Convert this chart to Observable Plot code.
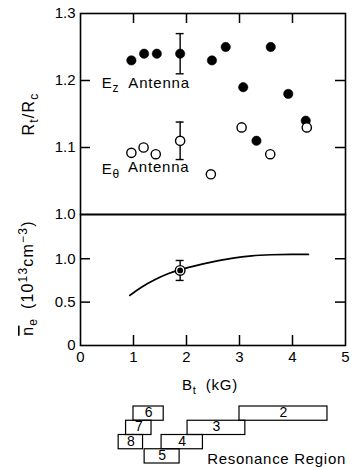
<!DOCTYPE html>
<html><head><meta charset="utf-8">
<script src="https://cdn.jsdelivr.net/npm/d3@7"></script>
<script src="https://cdn.jsdelivr.net/npm/@observablehq/plot@0.6"></script>
<style>
html,body{margin:0;padding:0;background:#fff;}
#chart{position:relative;width:360px;height:467px;overflow:hidden;font-family:"Liberation Sans",Arial,sans-serif;}
#chart svg{position:absolute;left:0;overflow:visible;background:transparent;}
</style></head><body><div id="chart"></div>
<script>
// ---- data ----
const ezB  = [0.96, 1.20, 1.44, 1.88, 2.48, 2.74, 3.07, 3.32, 3.59, 3.92, 4.25];
const ezR  = [1.23, 1.24, 1.24, 1.24, 1.23, 1.25, 1.19, 1.11, 1.25, 1.18, 1.14];
const ethB = [0.96, 1.19, 1.42, 1.88, 2.46, 3.04, 3.58, 4.27];
const ethR = [1.092, 1.10, 1.09, 1.11, 1.06, 1.13, 1.09, 1.13];
const errB  = [1.88, 1.88];
const errLo = [1.21, 1.082];
const errHi = [1.27, 1.138];
const densB = [0.93, 1.15, 1.40, 1.65, 1.87, 2.16, 2.47, 2.85, 3.23, 3.60, 3.98, 4.30];
const densN = [0.577, 0.672, 0.758, 0.827, 0.872, 0.918, 0.961, 1.005, 1.034, 1.046, 1.05, 1.05];
const measB = [1.88];
const measN = [0.865];
const measLo = [0.75];
const measHi = [0.98];
const resLabels = ["2", "3", "4", "5", "6", "7", "8"];
const resLo  = [3.00, 2.02, 1.53, 1.21, 1.00, 0.86, 0.72];
const resHi  = [4.66, 3.11, 2.31, 1.87, 1.57, 1.34, 1.18];
const resRow = [0, 1, 2, 3, 0, 1, 2];
const xTicks = [0, 1, 2, 3, 4, 5];
const xInnerTicks = [1, 2, 3, 4];
const rTicks = [1.0, 1.1, 1.2, 1.3];
const rInnerTicks = [1.1, 1.2];
const nTicks = [0, 0.5, 1.0];
const nInnerTicks = [0.5, 1.0];

// ---- tables ----
const ez = ezB.map((b, i) => ({b, r: ezR[i]}));
const eth = ethB.map((b, i) => ({b, r: ethR[i]}));
const err = errB.map((b, i) => ({b, lo: errLo[i], hi: errHi[i]}));
const errCaps = err.flatMap(d => [{b: d.b, v: d.lo}, {b: d.b, v: d.hi}]);
const dens = densB.map((b, i) => ({b, n: densN[i]}));
const meas = measB.map((b, i) => ({b, n: measN[i], lo: measLo[i], hi: measHi[i]}));
const measCaps = meas.flatMap(d => [{b: d.b, v: d.lo}, {b: d.b, v: d.hi}]);
const res = resLabels.map((l, i) => ({label: l, lo: resLo[i], hi: resHi[i], row: resRow[i]}));

// ---- layout ----
const FONT = '"Liberation Sans", Arial, sans-serif';
const W = 360, ML = 80, MR = 15, TICK = 10;
const frameW = W - ML - MR;
const CAP = 0.075;
const style = {fontFamily: FONT, fontSize: "15px", background: "transparent", overflow: "visible", color: "black"};
const chart = document.getElementById("chart");

function rich(svg, x, y, parts, {rotate = 0, anchor = "start", size = 15, spacing = 0.8} = {}) {
  const t = d3.select(svg).append("text")
    .attr("transform", `translate(${x},${y}) rotate(${rotate})`)
    .attr("text-anchor", anchor)
    .attr("font-family", FONT).attr("font-size", size)
    .attr("letter-spacing", spacing).attr("fill", "black");
  let prev = 0;
  parts.forEach(p => {
    const s = p.shift || 0;
    const ts = t.append("tspan").text(p.t).attr("dy", s - prev);
    if (p.size) ts.attr("font-size", p.size);
    if (p.dx) ts.attr("dx", p.dx);
    if (p.over) ts.style("text-decoration", "overline");
    prev = s;
  });
  return t;
}

// ---- top panel ----
const H1 = 215, MT1 = 13, MB1 = 1;
const p1 = Plot.plot({
  width: W, height: H1, marginTop: MT1, marginBottom: MB1, marginLeft: ML, marginRight: MR,
  x: {domain: [0, 5], axis: null},
  y: {domain: [1.0, 1.3]},
  style,
  marks: [
    Plot.frame({stroke: "black", strokeWidth: 1.6}),
    Plot.axisY({ticks: rTicks, tickSize: 0, tickPadding: 5, tickFormat: d => d.toFixed(1), fontSize: 15, fill: "black", label: null}),
    Plot.tickY(rInnerTicks, {y: d => d, insetRight: frameW - TICK, strokeWidth: 1.5}),
    Plot.tickY(rInnerTicks, {y: d => d, insetLeft: frameW - TICK, strokeWidth: 1.5}),
    Plot.tickX(xInnerTicks, {x: d => d, insetBottom: (H1 - MT1 - MB1) - TICK, strokeWidth: 1.5}),
    Plot.ruleX(err, {x: "b", y1: "lo", y2: "hi", strokeWidth: 1.4}),
    Plot.ruleY(errCaps, {y: "v", x1: d => d.b - CAP, x2: d => d.b + CAP, strokeWidth: 1.4}),
    Plot.dot(ez, {x: "b", y: "r", r: 4.7, fill: "black", stroke: "black", strokeWidth: 0.5}),
    Plot.dot(eth, {x: "b", y: "r", r: 4.6, fill: "white", stroke: "black", strokeWidth: 1.4})
  ]
});
p1.style.top = "0px";
chart.appendChild(p1);
{
  const sx = p1.scale("x").apply, sy = p1.scale("y").apply;
  rich(p1, 34, 114, [{t: "R"}, {t: "t", size: 12, shift: 4}, {t: "/R", shift: 0}, {t: "c", size: 12, shift: 4}], {rotate: -90, anchor: "middle", size: 16, spacing: 1.2});
  rich(p1, sx(0.41), sy(1.1875), [{t: "E"}, {t: "z", size: 12, shift: 4}, {t: "Antenna", shift: 0, dx: 9}]);
  rich(p1, sx(0.41), sy(1.06), [{t: "E"}, {t: "θ", size: 12, shift: 4}, {t: "Antenna", shift: -2, dx: 8}]);
}

// ---- bottom panel ----
const TOP2 = 213, H2 = 187, MT2 = 1, MB2 = 55;
const p2 = Plot.plot({
  width: W, height: H2, marginTop: MT2, marginBottom: MB2, marginLeft: ML, marginRight: MR,
  x: {domain: [0, 5]},
  y: {domain: [0, 1.51]},
  style,
  marks: [
    Plot.frame({stroke: "black", strokeWidth: 1.6}),
    Plot.axisY({ticks: nTicks, tickSize: 0, tickPadding: 5, tickFormat: d => d === 0 ? "0" : d.toFixed(1), fontSize: 15, fill: "black", label: null}),
    Plot.axisX({ticks: xTicks, tickSize: 0, tickPadding: 6, tickFormat: d => String(d), fontSize: 15, fill: "black", label: null}),
    Plot.tickY(nInnerTicks, {y: d => d, insetRight: frameW - TICK, strokeWidth: 1.5}),
    Plot.tickY(nInnerTicks, {y: d => d, insetLeft: frameW - TICK, strokeWidth: 1.5}),
    Plot.tickX(xInnerTicks, {x: d => d, insetTop: (H2 - MT2 - MB2) - TICK, strokeWidth: 1.5}),
    Plot.line(dens, {x: "b", y: "n", curve: "monotone-x", stroke: "black", strokeWidth: 1.7}),
    Plot.ruleX(meas, {x: "b", y1: "lo", y2: "hi", strokeWidth: 1.4}),
    Plot.ruleY(measCaps, {y: "v", x1: d => d.b - CAP, x2: d => d.b + CAP, strokeWidth: 1.4}),
    Plot.dot(meas, {x: "b", y: "n", r: 4.8, fill: "white", stroke: "black", strokeWidth: 1.4}),
    Plot.dot(meas, {x: "b", y: "n", r: 2.9, fill: "black"})
  ]
});
p2.style.top = TOP2 + "px";
chart.appendChild(p2);
{
  rich(p2, 33, 278 - TOP2, [{t: "n", over: true}, {t: "e", size: 12, shift: 4}, {t: " (10", shift: 0, dx: 3}, {t: "13", size: 12, shift: -6}, {t: "cm", shift: 0}, {t: "−3", size: 12, shift: -6}, {t: ")", shift: 0}], {rotate: -90, anchor: "middle", size: 16, spacing: 1.2});
  rich(p2, 182, 390 - TOP2, [{t: "B"}, {t: "t", size: 11, shift: 4}, {t: "(kG)", shift: 0, dx: 9}]);
}

// ---- resonance region ----
const TOP3 = 400;
const p3 = Plot.plot({
  width: W, height: 67, marginTop: 6, marginBottom: 4, marginLeft: ML, marginRight: MR,
  x: {domain: [0, 5], axis: null},
  y: {domain: [0, 4], reverse: true, axis: null},
  style,
  marks: [
    Plot.rect(res, {x1: "lo", x2: "hi", y1: "row", y2: d => d.row + 1, fill: "none", stroke: "black", strokeWidth: 1.2}),
    Plot.text(res, {x: d => (d.lo + d.hi) / 2, y: d => d.row + 0.5, text: "label", fontSize: 14, dy: -1, fill: "black"})
  ]
});
p3.style.top = TOP3 + "px";
chart.appendChild(p3);
{
  const sx = p3.scale("x").apply;
  rich(p3, sx(2.4), 64, [{t: "Resonance Region"}], {spacing: 0.7});
}
</script></body></html>
